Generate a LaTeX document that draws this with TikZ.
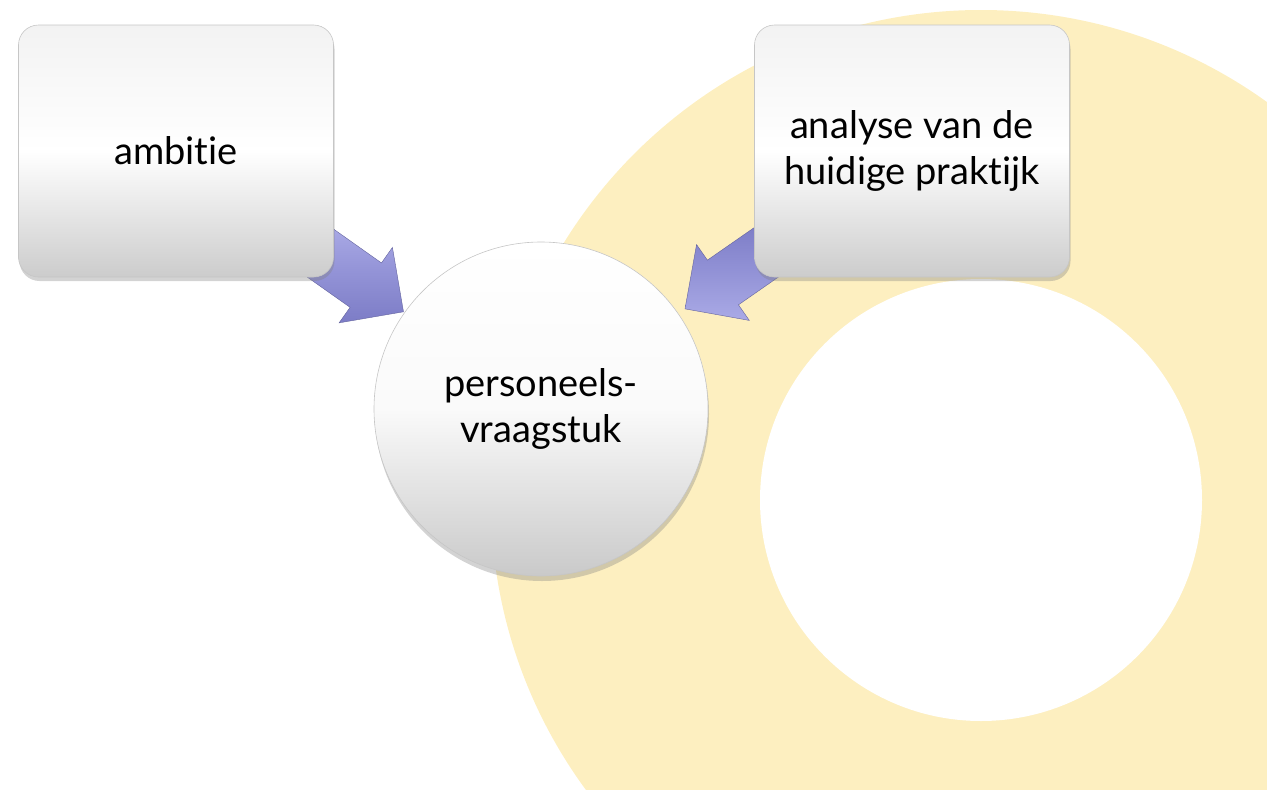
\documentclass[tikz,border=0pt]{standalone}
\usepackage{fontspec}
\setmainfont{Lato}[Ligatures=NoCommon]
\usetikzlibrary{calc,shadows,shapes.arrows}

\definecolor{ringyellow}{RGB}{253,239,192}
\definecolor{arrowlight}{RGB}{170,170,230}
\definecolor{arrowmid}{RGB}{146,146,214}
\definecolor{arrowdark}{RGB}{124,124,198}

\pgfdeclarelayer{ringlayer}
\pgfdeclarelayer{arrowlayer}
\pgfsetlayers{ringlayer,arrowlayer,main}

\begin{document}
\begin{tikzpicture}[
x=1pt, y=-1pt,
 font=\fontsize{38}{46}\selectfont,
 boxnode/.style = {rectangle, rounded corners=20pt,% grey blocks on top
                   minimum width=315pt, minimum height=252pt,
                   draw=gray!45, line width=0.6pt,
                   top color=gray!10, bottom color=gray!40, middle color=white,
                   drop shadow={opacity=0.35, shadow xshift=1pt, shadow yshift=-4pt},
                   align=center},
 circnode/.style = {circle, minimum size=334pt, inner sep=0pt,% centre disc
                   draw=gray!45, line width=0.6pt,
                   top color=white, bottom color=gray!42, middle color=white!96!gray,
                   drop shadow={opacity=0.35, shadow xshift=1pt, shadow yshift=-5pt},
                   align=center},
 fatarrow/.style = {single arrow, minimum height=112pt,% converging arrows
                   inner sep=27pt, single arrow head extend=19pt,
                   sloped, allow upside down, draw=arrowdark!80!black, line width=0.4pt},
                        ]
\useasboundingbox (0,0) rectangle (1267,790);
% background ring
\begin{pgfonlayer}{ringlayer}
\clip (0,0) rectangle (1267,790);
\fill[ringyellow] (981,500) circle[radius=490pt];
\fill[white] (981,500) circle[radius=221pt];
\end{pgfonlayer}
% blocks
\node[boxnode] (amb) at (176,151) {ambitie};
\node[boxnode] (ana) at (912,151) {analyse van de\\huidige praktijk};
\node[circnode] (pv) at (541,409) {personeels-\\vraagstuk};
% arrows, tails hidden below the blocks
\coordinate (ambtip) at ($(pv.center)!182pt!(amb.center)$);
\coordinate (anatip) at ($(pv.center)!189pt!(ana.center)$);
\begin{pgfonlayer}{arrowlayer}
\path ($(ambtip)!112pt!(amb.center)$) -- node[fatarrow, top color=arrowlight, bottom color=arrowdark, middle color=arrowmid] {} (ambtip);
\path ($(anatip)!112pt!(ana.center)$) -- node[fatarrow, top color=arrowdark, bottom color=arrowlight, middle color=arrowmid] {} (anatip);
\end{pgfonlayer}
\end{tikzpicture}
\end{document}
